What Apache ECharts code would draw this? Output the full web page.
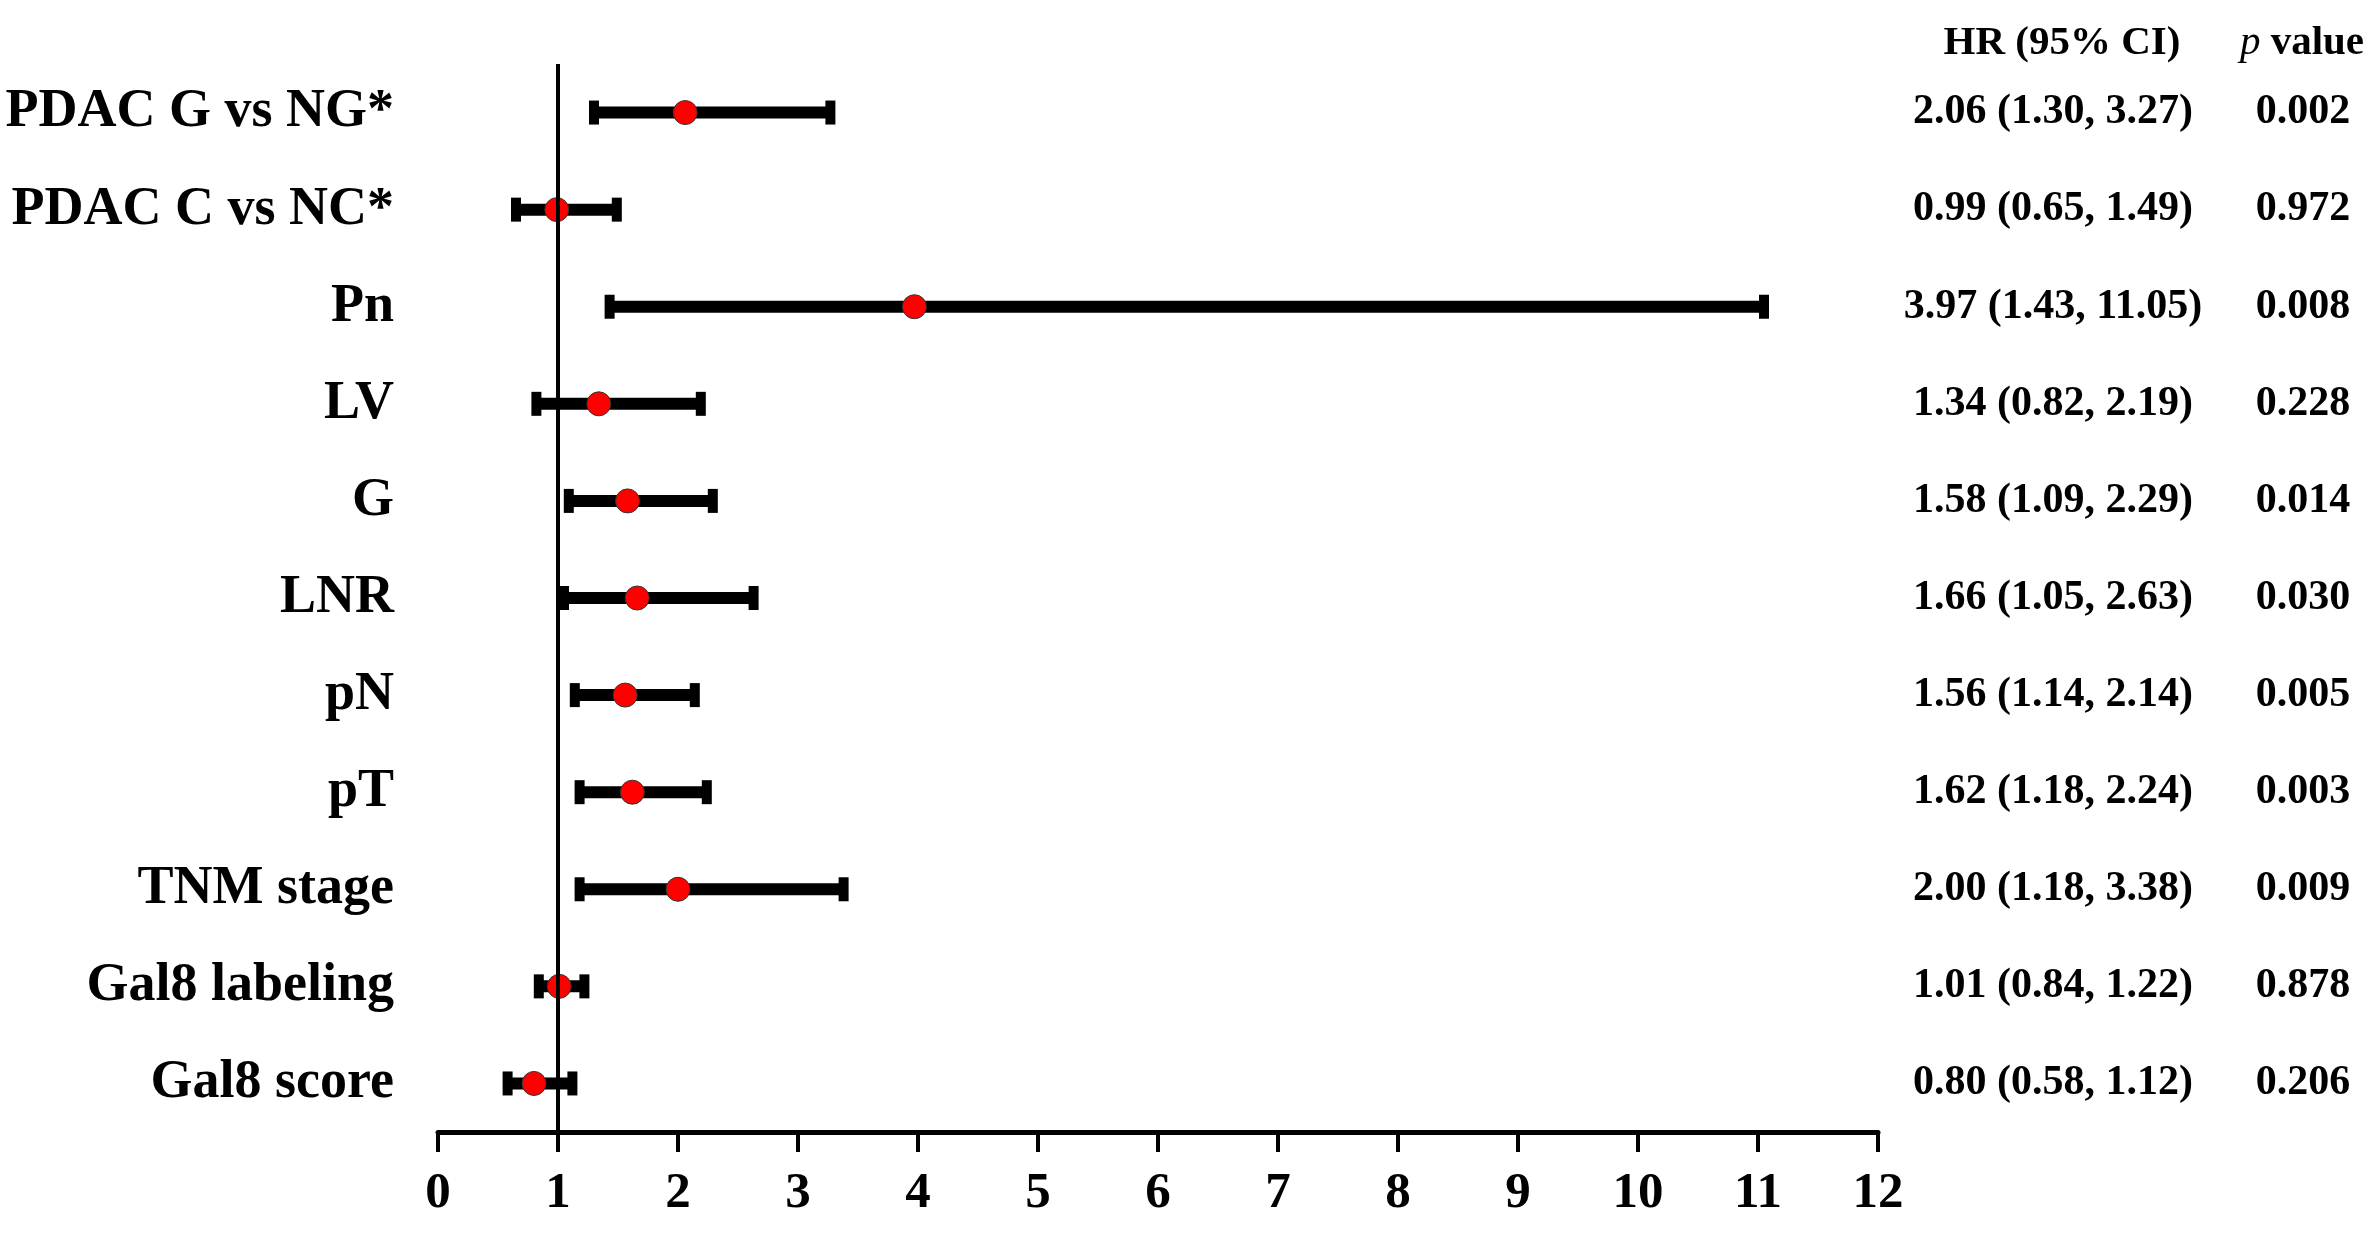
<!DOCTYPE html>
<html>
<head>
<meta charset="utf-8">
<script src="https://cdn.jsdelivr.net/npm/echarts@6/dist/echarts.min.js"></script>
<style>
  html, body { margin: 0; padding: 0; background: #fff; }
  #chart { width: 2377px; height: 1242px; }
</style>
</head>
<body>
<div id="chart"></div>
<script>
// forest plot data, top to bottom
var labels = ['PDAC G vs NG*', 'PDAC C vs NC*', 'Pn', 'LV', 'G', 'LNR', 'pN', 'pT', 'TNM stage', 'Gal8 labeling', 'Gal8 score'];
var hr    = [2.06, 0.99, 3.97, 1.34, 1.58, 1.66, 1.56, 1.62, 2.00, 1.01, 0.80];
var lower = [1.30, 0.65, 1.43, 0.82, 1.09, 1.05, 1.14, 1.18, 1.18, 0.84, 0.58];
var upper = [3.27, 1.49, 11.05, 2.19, 2.29, 2.63, 2.14, 2.24, 3.38, 1.22, 1.12];
var pValues = ['0.002', '0.972', '0.008', '0.228', '0.014', '0.030', '0.005', '0.003', '0.009', '0.878', '0.206'];
var xTicks = [0, 12, 1]; // min, max, interval

var serif = "'Liberation Serif', 'Times New Roman', serif";

var hrText = hr.map(function (v, i) {
    return v.toFixed(2) + ' (' + lower[i].toFixed(2) + ', ' + upper[i].toFixed(2) + ')';
});
var ciData = labels.map(function (l, i) { return [lower[i], upper[i], i]; });
var pointData = labels.map(function (l, i) { return [hr[i], i]; });

var chart = echarts.init(document.getElementById('chart'));

function renderBar(params, api) {
    var y = api.value(2);
    var p1 = api.coord([api.value(0), y]);
    var p2 = api.coord([api.value(1), y]);
    var capW = 10, capH = 24;
    return {
        type: 'group',
        children: [
            { type: 'line', shape: { x1: p1[0], y1: p1[1], x2: p2[0], y2: p2[1] },
              style: { stroke: '#000', lineWidth: 12 } },
            { type: 'rect', shape: { x: p1[0] - capW / 2, y: p1[1] - capH / 2, width: capW, height: capH },
              style: { fill: '#000' } },
            { type: 'rect', shape: { x: p2[0] - capW / 2, y: p2[1] - capH / 2, width: capW, height: capH },
              style: { fill: '#000' } }
        ]
    };
}

chart.setOption({
    backgroundColor: '#fff',
    animation: false,
    grid: { left: 438, right: 499, top: 64, bottom: 110 },
    graphic: [
        { type: 'text', x: 2062, y: 43,
          style: { text: 'HR (95% CI)', font: 'bold 41px ' + serif, fill: '#000',
                   textAlign: 'center', textVerticalAlign: 'middle' } },
        { type: 'text', x: 2302, y: 43,
          style: { text: '{i|p} value', font: 'bold 41px ' + serif, fill: '#000',
                   textAlign: 'center', textVerticalAlign: 'middle',
                   rich: { i: { fontStyle: 'italic', fontWeight: 'normal', fontSize: 41, fontFamily: serif } } } }
    ],
    xAxis: {
        type: 'value',
        min: xTicks[0],
        max: xTicks[1],
        interval: xTicks[2],
        axisLine: { show: true, lineStyle: { color: '#000', width: 5 } },
        axisTick: { show: true, length: 20, lineStyle: { color: '#000', width: 4 } },
        axisLabel: { color: '#000', fontFamily: serif, fontWeight: 'bold', fontSize: 51, margin: 36 },
        splitLine: { show: false }
    },
    yAxis: [
        {
            type: 'category',
            data: labels,
            inverse: true,
            axisLine: { show: false },
            axisTick: { show: false },
            axisLabel: { color: '#000', fontFamily: serif, fontWeight: 'bold', fontSize: 54, margin: 44 }
        },
        {
            type: 'category',
            data: hrText,
            inverse: true,
            position: 'right',
            axisLine: { show: false },
            axisTick: { show: false },
            axisLabel: { color: '#000', fontFamily: serif, fontWeight: 'bold', fontSize: 42,
                         align: 'center', margin: 175 }
        },
        {
            type: 'category',
            data: pValues,
            inverse: true,
            position: 'right',
            offset: 0,
            axisLine: { show: false },
            axisTick: { show: false },
            axisLabel: { color: '#000', fontFamily: serif, fontWeight: 'bold', fontSize: 42,
                         align: 'center', margin: 425 }
        }
    ],
    series: [
        {
            // reference line at HR = 1
            type: 'scatter',
            data: [],
            z: 1,
            silent: true,
            markLine: {
                silent: true,
                symbol: ['none', 'none'],
                label: { show: false },
                lineStyle: { color: '#000', width: 4, type: 'solid' },
                data: [{ xAxis: 1 }]
            }
        },
        {
            type: 'custom',
            renderItem: renderBar,
            data: ciData,
            encode: { x: [0, 1], y: 2 },
            z: 2
        },
        {
            type: 'scatter',
            data: pointData,
            symbol: 'circle',
            symbolSize: 24,
            itemStyle: { color: '#ff0000', borderColor: '#333', borderWidth: 1, opacity: 1 },
            z: 3
        }
    ]
});

window.addEventListener('resize', function () {
    chart.resize();
});
</script>
</body>
</html>
